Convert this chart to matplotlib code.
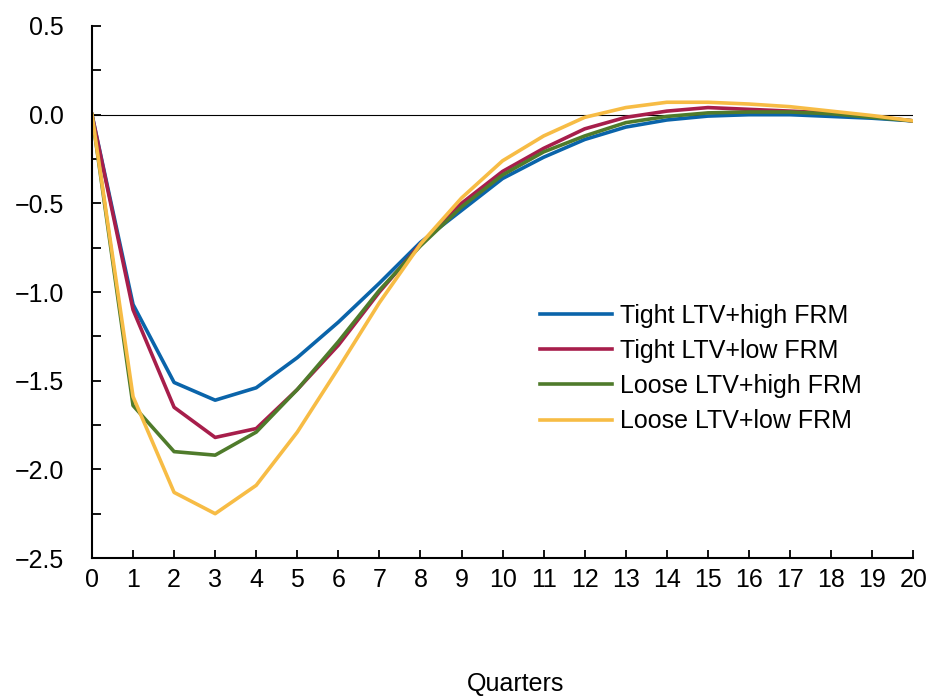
import matplotlib
matplotlib.use("Agg")
import matplotlib.pyplot as plt
from matplotlib.ticker import MultipleLocator, FuncFormatter

quarters = list(range(21))
series_names = ["Tight LTV+high FRM", "Tight LTV+low FRM",
                "Loose LTV+high FRM", "Loose LTV+low FRM"]
tight_high = [0.0, -1.07, -1.51, -1.61, -1.54, -1.37, -1.17, -0.95, -0.72, -0.54, -0.36,
              -0.24, -0.14, -0.07, -0.03, -0.008, 0.0, 0.0, -0.01, -0.02, -0.035]
tight_low = [0.0, -1.10, -1.65, -1.82, -1.77, -1.55, -1.30, -1.00, -0.73, -0.50, -0.32,
             -0.19, -0.08, -0.015, 0.02, 0.04, 0.03, 0.02, 0.01, -0.01, -0.035]
loose_high = [0.0, -1.64, -1.90, -1.92, -1.79, -1.55, -1.28, -0.99, -0.74, -0.52, -0.34,
              -0.21, -0.12, -0.045, -0.01, 0.01, 0.015, 0.015, 0.005, -0.015, -0.035]
loose_low = [0.0, -1.59, -2.13, -2.25, -2.09, -1.79, -1.43, -1.06, -0.73, -0.47, -0.26,
             -0.12, -0.015, 0.04, 0.07, 0.07, 0.06, 0.045, 0.02, -0.005, -0.035]
colors = ["#0A64AA", "#A71E4B", "#4F7B2B", "#F7BC45"]

FONT = ["Liberation Sans", "DejaVu Sans"]
plt.rcParams["font.family"] = FONT
FS = 18

fig = plt.figure(figsize=(9.29, 6.97), dpi=100)
ax = fig.add_axes([0.099, 0.1994, 0.884, 0.7633])

ax.axhline(0, color="black", lw=0.8, zorder=1)
for name, vals, c in zip(series_names, [tight_high, tight_low, loose_high, loose_low], colors):
    ax.plot(quarters, vals, color=c, lw=2.6, label=name, zorder=2)

ax.set_xlim(0, 20)
ax.set_ylim(-2.5, 0.5)
ax.xaxis.set_major_locator(MultipleLocator(1))
ax.yaxis.set_major_locator(MultipleLocator(0.5))
ax.yaxis.set_minor_locator(MultipleLocator(0.25))
ax.yaxis.set_major_formatter(FuncFormatter(lambda v, p: f"{v:.1f}".replace("-", "\u2212")))

for s in ["top", "right"]:
    ax.spines[s].set_visible(False)
for s in ["left", "bottom"]:
    ax.spines[s].set_linewidth(1.5)

ax.tick_params(axis="x", direction="in", length=6, width=1.3, labelsize=FS, pad=7)
ax.tick_params(axis="y", which="both", direction="in", length=6.5, width=1.3, labelsize=FS, pad=20)

leg = ax.legend(loc="upper left", bbox_to_anchor=(0.545, 0.478), frameon=False,
                fontsize=FS, handlelength=2.9, handletextpad=0.32, labelspacing=0.45,
                borderpad=0, borderaxespad=0)

fig.text(516 / 929, 1 - 684 / 697, "Quarters", ha="center", va="center", fontsize=FS)

fig.savefig("out.png", dpi=100)
